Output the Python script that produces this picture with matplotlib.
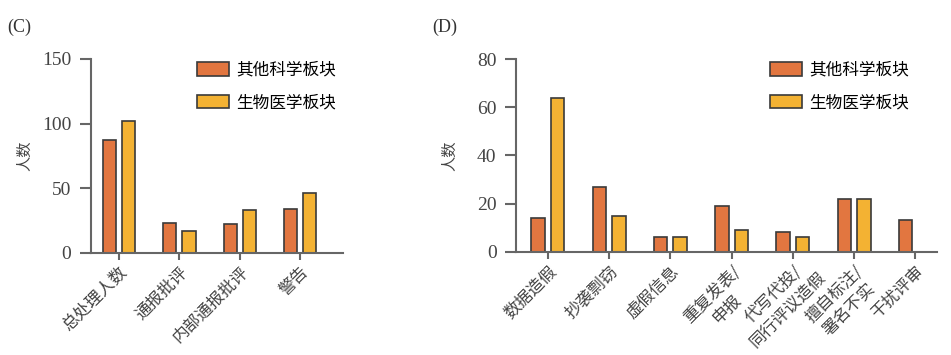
import matplotlib
matplotlib.use('Agg')
import matplotlib.pyplot as plt
import numpy as np

plt.rcParams['font.family'] = ['Noto Sans CJK SC', 'DejaVu Sans']

series_names = ['其他科学板块', '生物医学板块']
color_other = '#E27640'
color_bio = '#F3B233'

# (C) 处理方式
cats_c = ['总处理人数', '通报批评', '内部通报批评', '警告']
other_c = [87, 23, 22, 34]
bio_c = [102, 17, 33, 46]

# (D) 不端行为类型
cats_d = ['数据造假', '抄袭剽窃', '虚假信息', '重复发表/\n申报',
          '代写代投/\n同行评议造假', '擅自标注/\n署名不实', '干扰评审']
other_d = [14, 27, 6, 19, 8, 22, 13]
bio_d = [64, 15, 6, 9, 6, 22, 0]

fig = plt.figure(figsize=(9.51, 3.55), dpi=100)
axc = fig.add_axes([0.0954, 0.288, 0.2653, 0.546])
axd = fig.add_axes([0.5426, 0.291, 0.4424, 0.542])
renderer = fig.canvas.get_renderer()

spine_c = '#666666'
text_c = '#444444'
w = 0.22
off = 0.16
lab_size = 12


def text_width(s):
    t = fig.text(0, 0, s, fontsize=lab_size)
    wd = t.get_window_extent(renderer=renderer).width
    t.remove()
    return wd


def draw(ax, cats, other, bio, ymax, step, xlim, panel, leg_x, lab_x):
    x = np.arange(len(cats))
    ax.bar(x - off, other, w, color=color_other, edgecolor='#3a3a3a',
           linewidth=1.2, label=series_names[0])
    ax.bar(x + off, bio, w, color=color_bio, edgecolor='#3a3a3a',
           linewidth=1.2, label=series_names[1])
    ax.set_ylim(0, ymax)
    ax.set_xlim(*xlim)
    ax.set_yticks(np.arange(0, ymax + 1, step))
    ax.set_yticklabels([str(v) for v in np.arange(0, ymax + 1, step)],
                       family='Liberation Serif', fontsize=14, color=text_c)
    ax.set_xticks(x)
    ax.set_xticklabels([])
    # rotated labels: first line ends at the tick, other lines centred on it
    for xi, lab in zip(x, cats):
        widths = [text_width(s) for s in lab.split('\n')]
        sh = (max(widths) - widths[0]) / 2 * 0.7071
        ax.annotate(lab, xy=(xi, 0), xycoords=('data', 'axes fraction'),
                    xytext=(sh, -11 + sh), textcoords='offset pixels',
                    rotation=45, rotation_mode='anchor', ha='right', va='top',
                    multialignment='center', linespacing=1.3,
                    fontsize=lab_size, color=text_c)
    for s in ['top', 'right']:
        ax.spines[s].set_visible(False)
    for s in ['left', 'bottom']:
        ax.spines[s].set_color(spine_c)
        ax.spines[s].set_linewidth(1.5)
    ax.tick_params(axis='y', length=8, width=1.5, color=spine_c, pad=6)
    ax.tick_params(axis='x', length=5, width=1.5, color=spine_c, pad=3)
    ax.set_ylabel('人数', fontsize=11, color=text_c)
    ax.yaxis.set_label_coords(lab_x, 0.5)
    ax.legend(loc='upper left', bbox_to_anchor=(leg_x, 0.826),
              bbox_transform=fig.transFigure, frameon=False, fontsize=12,
              handlelength=1.9, handleheight=0.85, labelspacing=0.95,
              handletextpad=0.45, borderpad=0, borderaxespad=0)
    fig.text(panel[1], 0.924, panel[0], family='Liberation Serif',
             fontsize=13, color='#333333', va='center')


draw(axc, cats_c, other_c, bio_c, 150, 50, (-0.47, 3.71), ('(C)', 0.008), 0.207, -0.229)
draw(axd, cats_d, other_d, bio_d, 80, 20, (-0.52, 6.35), ('(D)', 0.455), 0.81, -0.138)

fig.savefig('out.png', dpi=100)
